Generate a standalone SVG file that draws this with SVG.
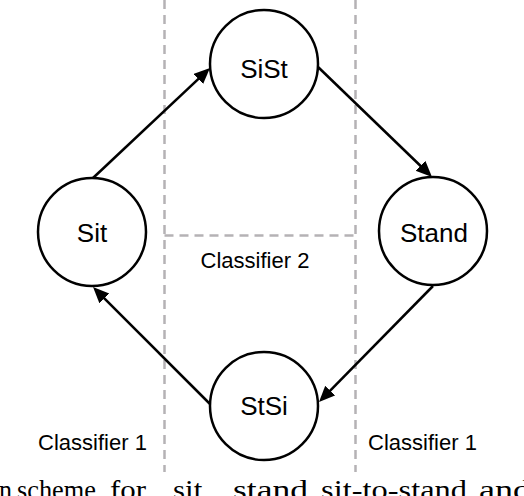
<svg xmlns="http://www.w3.org/2000/svg" width="524" height="496" viewBox="0 0 524 496">
<defs>
<style>
.node{fill:#fff;stroke:#000;stroke-width:2.5}
.lbl{font-family:"Liberation Sans",Arial,sans-serif;font-size:26px;fill:#000;text-anchor:middle}
.cls{font-family:"Liberation Sans",Arial,sans-serif;font-size:22px;fill:#000;text-anchor:middle}
.dash{fill:none;stroke:#b5b2b5;stroke-width:2.5;stroke-dasharray:9 6}
.edge{fill:none;stroke:#000;stroke-width:2.5;marker-end:url(#ah)}
.cap{font-family:"Liberation Serif","Times New Roman",serif;font-size:27px;fill:#000}
</style>
<marker id="ah" markerUnits="userSpaceOnUse" markerWidth="17" markerHeight="15" refX="6" refY="7" orient="auto">
<path d="M0,0 L16,7 L0,14 z" fill="#000"/>
</marker>
</defs>
<rect width="524" height="496" fill="#fff"/>
<g id="regions">
<line class="dash" x1="164.5" y1="0" x2="164.5" y2="472"/>
<line class="dash" x1="355.5" y1="0" x2="355.5" y2="472"/>
<line class="dash" x1="164.5" y1="235.5" x2="355.5" y2="235.5"/>
<text class="cls" x="255" y="268">Classifier 2</text>
<text class="cls" x="92.5" y="450">Classifier 1</text>
<text class="cls" x="422.5" y="450">Classifier 1</text>
</g>
<g id="connectors">
<line class="edge" x1="93" y1="178" x2="202.7" y2="74.9"/>
<line class="edge" x1="317" y1="66" x2="424.8" y2="170"/>
<line class="edge" x1="433" y1="286" x2="326" y2="394.9"/>
<line class="edge" x1="210" y1="404" x2="100.1" y2="294.1"/>
</g>
<g id="node-sit">
<circle class="node" cx="92" cy="232" r="54"/>
<text class="lbl" x="92" y="242">Sit</text>
</g>
<g id="node-sist">
<circle class="node" cx="264" cy="64" r="54"/>
<text class="lbl" x="264" y="78">SiSt</text>
</g>
<g id="node-stand">
<circle class="node" cx="433" cy="231" r="54"/>
<text class="lbl" x="434" y="242">Stand</text>
</g>
<g id="node-stsi">
<circle class="node" cx="264" cy="406" r="54"/>
<text class="lbl" x="264" y="415">StSi</text>
</g>
<text class="cap" y="499" lengthAdjust="spacingAndGlyphs"><tspan x="-1" textLength="13" lengthAdjust="spacingAndGlyphs">n</tspan><tspan x="17" textLength="79" lengthAdjust="spacingAndGlyphs">scheme</tspan><tspan x="110" textLength="36" lengthAdjust="spacingAndGlyphs">for</tspan><tspan x="173" textLength="37" lengthAdjust="spacingAndGlyphs">sit,</tspan><tspan x="233" textLength="84" lengthAdjust="spacingAndGlyphs">stand,</tspan><tspan x="321" textLength="146" lengthAdjust="spacingAndGlyphs">sit-to-stand</tspan><tspan x="479" textLength="52" lengthAdjust="spacingAndGlyphs">and</tspan></text>
</svg>
